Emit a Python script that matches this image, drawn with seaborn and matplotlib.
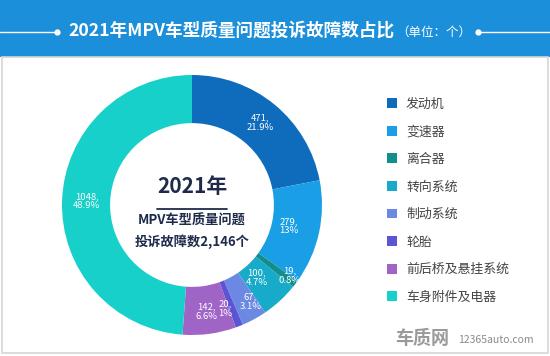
#!/usr/bin/env python3
"""MPV complaint share by fault category, 2021 (donut)."""

import matplotlib.pyplot as plt
import numpy as np
import seaborn as sns
from matplotlib.lines import Line2D
from matplotlib.patches import Patch, Rectangle

CATEGORIES = ["发动机", "变速器", "离合器", "转向系统", "制动系统", "轮胎", "前后桥及悬挂系统", "车身附件及电器"]
COUNTS = [471, 279, 19, 100, 67, 20, 142, 1048]
PCT_LABELS = ["21.9%", "13%", "0.8%", "4.7%", "3.1%", "1%", "6.6%", "48.9%"]
COLORS = ["#0f6cbd", "#1a9fe6", "#118f8a", "#17aac9", "#6b89e2", "#5b55d4", "#a064c6", "#17d0ca"]

TITLE = "2021年MPV车型质量问题投诉故障数占比"
UNIT = "（单位：个）"
CENTER_LINES = ["2021年", "MPV车型质量问题", "投诉故障数2,146个"]

# label placement: distance from centre (fraction of outer radius) and angle nudge (deg)
LABEL_R = [0.82, 0.76, 0.93, 0.75, 0.87, 0.84, 0.83, 0.81]
LABEL_DA = [0, 0, 1.5, -1, 2.5, -3.5, 0, 0]

W, H = 550, 356
HEADER_BLUE = "#1c8fdb"
NAVY = "#1e2b4b"


def px(x, y):
    return x / W, 1 - y / H


def main() -> None:
    sns.set_theme(style="white")
    plt.rcParams["font.family"] = ["Noto Sans CJK SC", "DejaVu Sans"]
    palette = sns.color_palette(COLORS)

    fig = plt.figure(figsize=(W / 100, H / 100), dpi=100)
    fig.patch.set_facecolor("white")

    # header band + panel frame
    fig.patches.append(Rectangle(px(0, 57), 1, 57 / H, transform=fig.transFigure,
                                 facecolor=HEADER_BLUE, edgecolor="none", zorder=-10))
    fig.patches.append(Rectangle(px(2, 353), 546 / W, 296 / H, transform=fig.transFigure,
                                 facecolor="white", edgecolor="#d6d6d6", lw=1.2, zorder=-10))

    fig.text(*px(68, 31), TITLE, color="white", fontsize=12.7, fontweight="bold",
             ha="left", va="center")
    fig.text(*px(396, 32), UNIT, color="white", fontsize=9, ha="left", va="center")
    for x0, x1, xd in ((0, 57, 57), (478, 550, 478)):
        fig.lines.append(Line2D([x0 / W, x1 / W], [1 - 32 / H] * 2, transform=fig.transFigure,
                                color="white", lw=1))
        fig.lines.append(Line2D([xd / W], [1 - 32 / H], transform=fig.transFigure,
                                color="white", marker="o", markersize=3.5))

    # donut
    cx, cy, r = 192, 205, 130
    left, bottom = px(cx - r, cy + r)
    ax = fig.add_axes([left, bottom, 2 * r / W, 2 * r / H])
    wedges, _ = ax.pie(COUNTS, colors=palette, startangle=90, counterclock=False,
                       radius=1.0, wedgeprops=dict(width=0.37, edgecolor="none"))
    ax.set_xlim(-1, 1)
    ax.set_ylim(-1, 1)
    ax.set_aspect("equal")
    ax.axis("off")

    for w, n, p, lr, da in zip(wedges, COUNTS, PCT_LABELS, LABEL_R, LABEL_DA):
        ang = np.deg2rad((w.theta1 + w.theta2) / 2 + da)
        ax.text(lr * np.cos(ang), lr * np.sin(ang), f"{n},\n{p}", color="white",
                fontsize=6.8, ha="center", va="center", linespacing=1.05)

    ax.text(0, 0.14, CENTER_LINES[0], color=NAVY, fontsize=15, fontweight="bold",
            ha="center", va="center")
    ax.plot([-0.27, 0.27], [-0.03, -0.03], color=NAVY, lw=1.3)
    ax.text(0, -0.12, CENTER_LINES[1], color=NAVY, fontsize=9.5, fontweight="bold",
            ha="center", va="center")
    ax.text(0, -0.28, CENTER_LINES[2], color=NAVY, fontsize=9.5, fontweight="bold",
            ha="center", va="center")

    # legend
    handles = [Patch(facecolor=c, edgecolor="none") for c in palette]
    fig.legend(handles, CATEGORIES, loc="upper left", bbox_to_anchor=px(375, 86),
               frameon=False, fontsize=9.3, handlelength=0.8, handleheight=0.8,
               handletextpad=0.7, labelspacing=1.13, labelcolor="#444444")

    # watermark
    fig.text(*px(395, 339), "车质网", color="#9a9a9a", fontsize=13, fontweight="bold",
             ha="left", va="center")
    fig.text(*px(458, 340), "12365auto.com", color="#8a8a8a", fontsize=7.5,
             ha="left", va="center")

    fig.savefig("out.png", dpi=100)
    plt.close(fig)


if __name__ == "__main__":
    main()
